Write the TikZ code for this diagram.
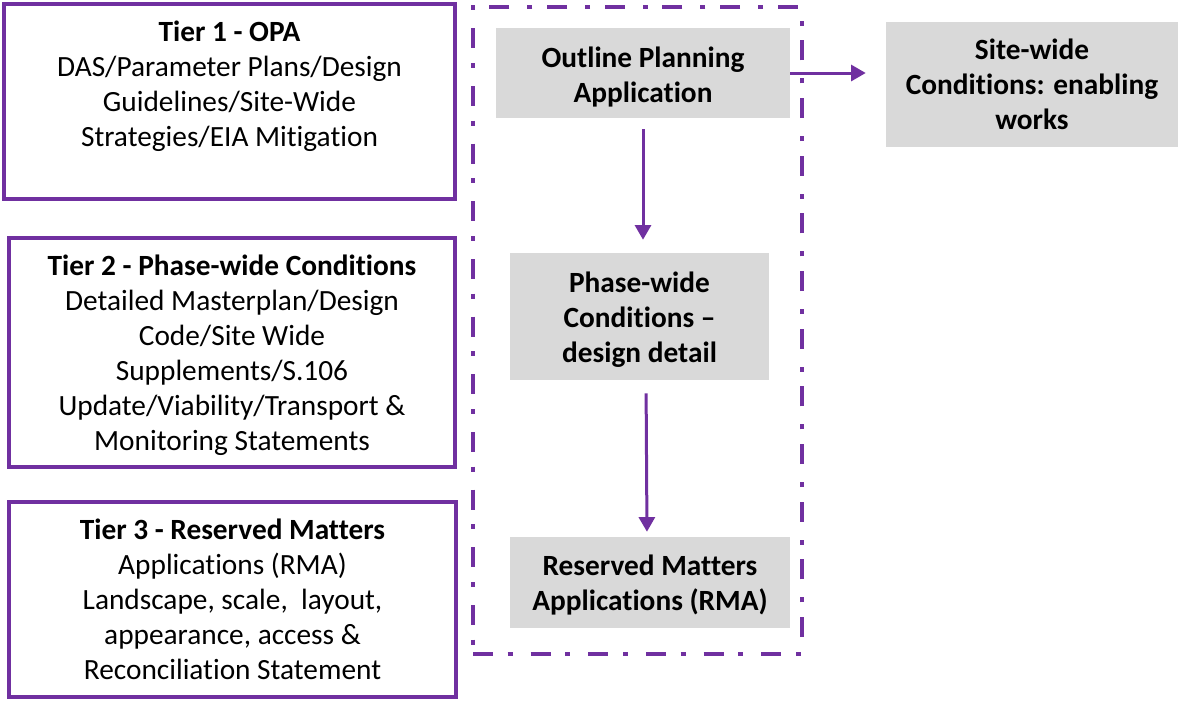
\documentclass[tikz,border=0pt]{standalone}
\usepackage{fontspec}
\setmainfont[Ligatures=NoCommon]{Carlito}
\usetikzlibrary{arrows.meta}
\definecolor{purp}{HTML}{7030A0}
\definecolor{boxgray}{HTML}{D9D9D9}
\newcommand\toppad[1]{\rule{0pt}{#1}}
\begin{document}
\begin{tikzpicture}[x=0.75pt,y=-0.75pt,
  tier/.style={draw=purp,line width=3pt,rectangle,inner sep=0pt,align=center,
    font=\fontsize{22}{26.25}\selectfont},
  gbox/.style={fill=boxgray,rectangle,inner sep=0pt,align=center,
    font=\bfseries\fontsize{22}{26.25}\selectfont},
  arr/.style={draw=purp,line width=2.25pt,-{Triangle[length=11pt,width=12pt]}},
  frame/.style={draw=purp,line width=3pt,rectangle,inner sep=0pt,
    dash pattern=on 15pt off 11pt on 3.75pt off 13.5pt}]
\useasboundingbox (0,0) rectangle (1178,700);

% left tier boxes
\node[tier,minimum width=338.25pt,minimum height=146.25pt] (t1) at (229.5,101.5)
  {\toppad{22.5pt}\textbf{Tier 1 - OPA}\\DAS/Parameter Plans/Design\\Guidelines/Site-Wide\\Strategies/EIA Mitigation\\\strut};
\node[tier,minimum width=334.5pt,minimum height=171.75pt] (t2) at (232,352.5)
  {\toppad{20pt}\textbf{Tier 2 - Phase-wide Conditions}\\Detailed Masterplan/Design\\Code/Site Wide\\Supplements/S.106\\Update/Viability/Transport \&\\Monitoring Statements};
\node[tier,minimum width=335.25pt,minimum height=146.25pt] (t3) at (232.5,599.5)
  {\textbf{Tier 3 - Reserved Matters}\\Applications (RMA)\\Landscape, scale,\ \ layout,\\appearance, access \&\\Reconciliation Statement};

% dashed frame
\node[frame,minimum width=246.75pt,minimum height=485.25pt] (fr) at (637.5,330.5) {};

% grey boxes
\node[gbox,minimum width=220.5pt,minimum height=67.5pt] (opa) at (643,73)
  {\toppad{21pt}Outline Planning\\Application};
\node[gbox,minimum width=219pt,minimum height=93.75pt] (site) at (1032,84.5)
  {Site-wide\\Conditions: enabling\\works};
\node[gbox,minimum width=194.25pt,minimum height=95.25pt] (phase) at (639.5,316.5)
  {\toppad{19.5pt}Phase-wide\\Conditions –\\design detail};
\node[gbox,minimum width=210pt,minimum height=68.25pt] (rma) at (650,582.5)
  {\toppad{19.5pt}Reserved Matters\\Applications (RMA)};

% arrows
\draw[arr,shorten >=15pt] (opa.east) -- (opa.east -| site.west);
\draw[arr,shorten <=8.25pt,shorten >=9.75pt] (opa.south) -- (opa.south |- phase.north);
\draw[arr,shorten <=9.75pt,shorten >=3.75pt] ([xshift=4.9pt]phase.south) -- ([xshift=-2.25pt]rma.north);
\end{tikzpicture}
\end{document}
